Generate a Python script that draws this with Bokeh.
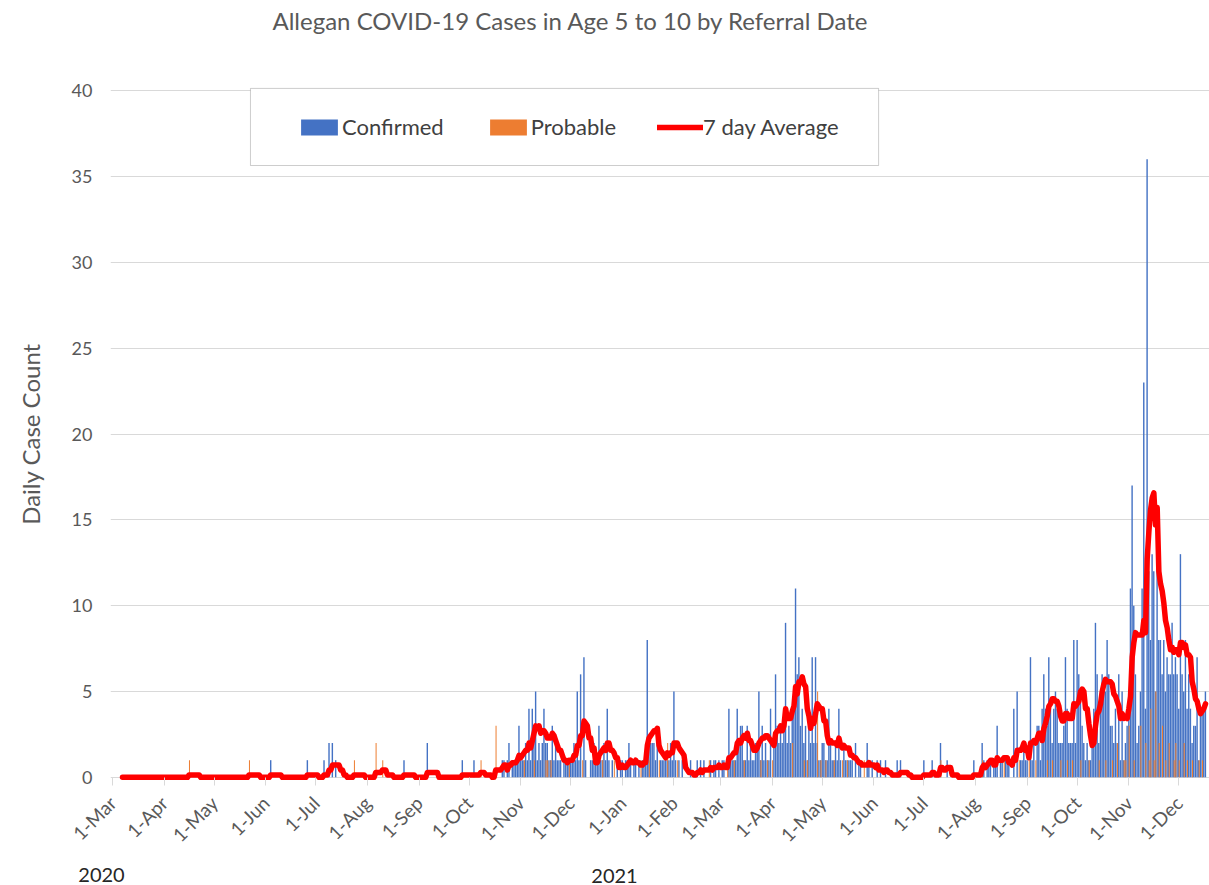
import numpy as np
import pandas as pd
from math import pi
from bokeh.plotting import figure
from bokeh.models import (ColumnDataSource, FixedTicker, SingleIntervalTicker, Legend,
                          LegendItem, Label, BoxAnnotation, Range1d)
from bokeh.transform import dodge
from bokeh.embed import file_html
from bokeh.resources import INLINE

# ---------------- data (daily counts, by referral date) ----------------
start_date = "2020-03-01"

conf_2020_03 = [0,0,0,0,0,0,0,0,0,0, 0,0,0,0,0,0,0,0,0,0, 0,0,0,0,0,0,0,0,0,0, 0]
prob_2020_03 = [0,0,0,0,0,0,0,0,0,0, 0,0,0,0,0,0,0,0,0,0, 0,0,0,0,0,0,0,0,0,0, 0]
conf_2020_04 = [0,0,0,0,0,0,0,0,0,0, 0,0,0,0,0,0,0,0,0,0, 0,0,0,0,0,0,0,0,0,0]
prob_2020_04 = [0,0,0,0,0,0,0,0,0,0, 0,0,0,0,0,1,0,0,0,0, 0,0,0,0,0,0,0,0,0,0]
conf_2020_05 = [0,0,0,0,0,0,0,0,0,0, 0,0,0,0,0,0,0,0,0,0, 0,0,0,0,0,0,0,0,0,0, 0]
prob_2020_05 = [0,0,0,0,0,0,0,0,0,0, 0,0,0,0,0,0,0,0,0,0, 0,1,0,0,0,0,0,0,0,0, 0]
conf_2020_06 = [0,0,0,1,0,0,0,0,0,0, 0,0,0,0,0,0,0,0,0,0, 0,0,0,0,0,1,0,0,0,0]
prob_2020_06 = [0,0,0,0,0,0,0,0,0,0, 0,0,0,0,0,0,0,0,0,0, 0,0,0,0,0,0,0,0,0,0]
conf_2020_07 = [0,0,0,0,0,1,0,0,2,0, 2,0,1,0,0,0,0,0,0,0, 0,0,0,0,0,0,0,0,0,0, 0]
prob_2020_07 = [0,0,0,0,0,0,0,0,0,0, 0,0,0,0,0,0,0,0,0,0, 0,0,0,1,0,0,0,0,0,0, 0]
conf_2020_08 = [0,0,0,0,0,0,0,0,0,0, 0,0,0,0,0,0,0,0,0,0, 0,0,1,0,0,0,0,0,0,0, 0]
prob_2020_08 = [0,0,0,0,0,2,0,0,0,1, 0,0,0,0,0,0,0,0,0,0, 0,0,0,0,0,0,0,0,0,0, 0]
conf_2020_09 = [0,0,0,0,0,2,0,0,0,0, 0,0,0,0,0,0,0,0,0,0, 0,0,0,0,0,0,1,0,0,0]
prob_2020_09 = [0,0,0,0,0,0,0,0,0,0, 0,0,0,0,0,0,0,0,0,0, 0,0,0,0,0,0,0,0,0,0]
conf_2020_10 = [0,0,0,1,0,0,0,0,0,0, 0,0,0,0,0,0,0,0,0,0, 1,1,0,1,2,0,1,1,1,1, 3]
prob_2020_10 = [0,0,0,0,0,0,0,1,0,0, 0,0,0,0,0,0,3,0,0,0, 0,0,0,0,0,0,0,0,0,0, 0]
conf_2020_11 = [1,1,1,2,1,4,1,4,3,5, 1,2,1,2,4,2,2,1,1,3, 1,2,1,1,1,0,1,1,1,1]
prob_2020_11 = [0,0,1,0,0,0,0,0,1,0, 0,0,0,0,0,1,1,0,1,0, 0,0,0,0,0,0,0,0,0,1]
conf_2020_12 = [1,1,2,1,5,1,6,0,7,1, 0,0,1,1,2,1,1,3,1,1, 2,1,4,1,0,1,0,0,1,0, 1]
prob_2020_12 = [0,0,0,0,0,0,0,1,0,0, 0,0,0,0,0,0,0,0,0,1, 0,0,0,0,0,0,1,0,0,0, 0]
conf_2021_01 = [1,0,1,1,2,1,0,1,1,0, 1,0,1,1,1,8,2,2,2,2, 1,2,0,1,1,1,1,1,1,2, 1]
prob_2021_01 = [0,0,0,0,0,0,0,0,0,0, 0,1,0,0,0,0,1,0,0,0, 0,0,1,0,0,0,0,2,0,0, 0]
conf_2021_02 = [5,1,0,1,0,1,0,0,0,0, 1,0,0,0,1,0,1,0,1,0, 0,0,1,0,1,1,0,1]
prob_2021_02 = [0,0,1,0,0,0,0,0,0,0, 0,0,0,0,0,0,0,0,0,0, 0,1,0,0,0,0,0,0]
conf_2021_03 = [0,1,1,0,0,4,1,1,1,1, 4,2,3,3,1,1,3,1,2,1, 1,2,2,5,1,3,1,2,1,1, 4]
prob_2021_03 = [0,0,0,0,1,0,0,0,1,0, 0,0,0,0,1,0,0,0,0,0, 0,0,0,0,1,0,0,0,1,0, 0]
conf_2021_04 = [0,2,6,3,2,3,2,3,9,2, 3,2,4,4,11,6,7,3,4,2, 3,1,3,2,7,2,7,2,1,1]
prob_2021_04 = [1,0,0,0,0,0,0,0,0,0, 0,0,2,0,0,0,0,0,0,1, 0,1,0,0,0,0,0,5,0,1]
conf_2021_05 = [2,2,1,1,4,2,1,1,2,1, 4,1,0,2,1,1,1,1,1,0, 2,0,1,1,0,0,0,2,1,0, 1]
prob_2021_05 = [0,0,1,0,0,0,0,1,0,0, 0,0,1,0,0,1,0,0,0,0, 0,0,0,0,0,1,0,0,0,0, 0]
conf_2021_06 = [0,0,1,0,1,0,0,1,0,0, 0,0,0,0,1,0,1,0,0,0, 0,0,0,0,0,0,0,0,0,0]
prob_2021_06 = [0,0,0,0,0,0,0,0,0,0, 0,0,0,0,0,0,0,0,0,0, 0,0,0,0,0,0,0,0,0,0]
conf_2021_07 = [1,0,0,0,0,1,0,0,0,0, 2,0,0,0,1,0,0,0,0,0, 0,0,0,0,0,0,0,0,0,0, 1]
prob_2021_07 = [0,0,0,0,0,0,0,0,0,0, 1,0,0,0,0,0,0,0,0,0, 0,0,0,0,0,0,0,0,0,0, 0]
conf_2021_08 = [0,0,0,0,2,1,0,1,1,1, 0,1,1,3,0,1,1,0,1,1, 1,0,0,4,0,5,0,1,1,2, 1]
prob_2021_08 = [0,0,0,0,1,0,0,0,0,0, 0,0,0,0,0,0,0,1,0,0, 0,0,0,0,0,0,1,0,0,0, 0]
conf_2021_09 = [1,0,7,1,2,0,3,3,1,4, 6,4,3,7,4,2,4,5,4,2, 2,2,3,7,4,2,2,2,8,2]
prob_2021_09 = [0,1,0,0,0,1,0,0,0,0, 0,0,1,0,0,1,0,0,0,0, 1,0,0,0,1,0,0,1,0,0]
conf_2021_10 = [8,6,5,3,2,1,2,1,1,2, 4,9,6,2,5,6,5,5,8,6, 3,3,2,4,2,6,1,5,1,2, 3]
prob_2021_10 = [0,0,1,0,0,0,0,1,0,0, 0,0,0,1,0,0,0,1,0,0, 0,1,0,0,2,0,0,0,1,1, 0]
conf_2021_11 = [5,11,17,10,6,2,3,5,11,23, 4,36,12,8,13,12,5,13,8,8, 6,8,5,7,6,6,9,6,7,6]
prob_2021_11 = [3,0,0,1,0,0,0,3,0,0, 2,0,1,4,0,1,5,0,2,0, 3,0,1,0,2,0,0,1,2,0]
conf_2021_12 = [4,13,6,5,8,4,6,4,2,3, 3,7,1,4,4,4,5]
prob_2021_12 = [1,0,0,2,0,1,0,0,1,0, 0,0,1,0,1,0,0]

tick_labels = ["1-Mar", "1-Apr", "1-May", "1-Jun", "1-Jul", "1-Aug", "1-Sep", "1-Oct",
               "1-Nov", "1-Dec", "1-Jan", "1-Feb", "1-Mar", "1-Apr", "1-May", "1-Jun",
               "1-Jul", "1-Aug", "1-Sep", "1-Oct", "1-Nov", "1-Dec"]
year_labels = ["2020", "2021"]
series_names = ["Confirmed", "Probable", "7 day Average"]
chart_title = "Allegan COVID-19 Cases in Age 5 to 10 by Referral Date"

conf_months = [conf_2020_03, conf_2020_04, conf_2020_05, conf_2020_06, conf_2020_07,
               conf_2020_08, conf_2020_09, conf_2020_10, conf_2020_11, conf_2020_12,
               conf_2021_01, conf_2021_02, conf_2021_03, conf_2021_04, conf_2021_05,
               conf_2021_06, conf_2021_07, conf_2021_08, conf_2021_09, conf_2021_10,
               conf_2021_11, conf_2021_12]
prob_months = [prob_2020_03, prob_2020_04, prob_2020_05, prob_2020_06, prob_2020_07,
               prob_2020_08, prob_2020_09, prob_2020_10, prob_2020_11, prob_2020_12,
               prob_2021_01, prob_2021_02, prob_2021_03, prob_2021_04, prob_2021_05,
               prob_2021_06, prob_2021_07, prob_2021_08, prob_2021_09, prob_2021_10,
               prob_2021_11, prob_2021_12]

confirmed = [v for m in conf_months for v in m]
probable = [v for m in prob_months for v in m]
n = len(confirmed)
dates = pd.date_range(start_date, periods=n, freq="D")
day = (dates - dates[0]).days.to_numpy()
total = pd.Series(np.array(confirmed) + np.array(probable), dtype=float)
avg7 = total.rolling(7).mean().to_numpy()

src = ColumnDataSource(dict(day=day, conf=confirmed, prob=probable, avg=avg7))

month_starts = pd.date_range(start_date, periods=len(tick_labels), freq="MS")
tick_pos = [int((d - dates[0]).days) for d in month_starts]

# ---------------- styling ----------------
FONT = "Lato"
GREY = "#595959"

p = figure(width=1209, height=885, output_backend="svg", toolbar_location=None,
           x_range=Range1d(-1.2, 658.4), y_range=Range1d(-0.3, 40.3),
           min_border_left=110, min_border_right=0, min_border_top=85,
           min_border_bottom=103)
p.outline_line_color = None
p.xgrid.visible = False
p.ygrid.grid_line_color = "#d9d9d9"
p.ygrid.grid_line_width = 1

p.yaxis.ticker = SingleIntervalTicker(interval=5)
p.yaxis.axis_line_color = None
p.yaxis.major_tick_line_color = None
p.yaxis.minor_tick_line_color = None
p.yaxis.major_label_standoff = 12
p.yaxis.major_label_text_font = FONT
p.yaxis.major_label_text_font_size = "18px"
p.yaxis.major_label_text_color = GREY
p.yaxis.axis_label = "Daily Case Count"
p.yaxis.axis_label_text_font = FONT
p.yaxis.axis_label_text_font_style = "normal"
p.yaxis.axis_label_text_font_size = "24px"
p.yaxis.axis_label_text_color = GREY
p.yaxis.axis_label_standoff = 24

p.xaxis.ticker = FixedTicker(ticks=tick_pos)
p.xaxis.major_label_overrides = {t: lab for t, lab in zip(tick_pos, tick_labels)}
p.xaxis.major_label_orientation = pi / 4
p.xaxis.axis_line_color = None
p.xaxis.major_tick_line_color = "#d9d9d9"
p.xaxis.major_tick_in = 5
p.xaxis.major_tick_out = 3
p.xaxis.minor_tick_line_color = None
p.xaxis.major_label_standoff = 14
p.xaxis.major_label_text_font = FONT
p.xaxis.major_label_text_font_size = "19px"
p.xaxis.major_label_text_color = GREY

r_conf = p.vbar(x=dodge("day", -0.05), top="conf", width=0.85, source=src,
                fill_color="#4472C4", line_color=None)
r_prob = p.vbar(x=dodge("day", 0.2), top="prob", width=0.6, source=src,
                fill_color="#ED7D31", line_color=None)
r_avg = p.line(x="day", y="avg", source=src, line_color="#FF0000", line_width=5.5,
               line_join="round", line_cap="round")

# legend frame
box = BoxAnnotation(left=82.8, right=459.8, bottom=35.64, top=40.13,
                    fill_color="white", fill_alpha=1.0, line_color="#595959",
                    line_width=1)
p.add_layout(box)

legend = Legend(items=[LegendItem(label=series_names[0], renderers=[r_conf]),
                       LegendItem(label=series_names[1], renderers=[r_prob]),
                       LegendItem(label=series_names[2], renderers=[r_avg])],
                orientation="horizontal", location=(176, 632),
                glyph_width=46, glyph_height=20, label_standoff=0, spacing=41,
                padding=10, border_line_alpha=0, background_fill_alpha=0,
                label_text_font=FONT, label_text_font_size="22px",
                label_text_color="#404040")
p.add_layout(legend)

title_lbl = Label(x=162, y=65, x_units="screen", y_units="screen", text=chart_title,
                  text_font=FONT, text_font_size="24px", text_color=GREY,
                  text_align="left", text_baseline="middle")
p.add_layout(title_lbl, "above")

y2020 = Label(x=-9, y=-3, x_units="screen", y_units="screen", text=year_labels[0],
              text_font=FONT, text_font_size="20px", text_color="#262626",
              text_align="center", text_baseline="middle")
y2021 = Label(x=504, y=10, x_units="screen", y_units="screen", text=year_labels[1],
              text_font=FONT, text_font_size="20px", text_color="#262626",
              text_align="center", text_baseline="middle")
p.add_layout(y2020, "below")
p.add_layout(y2021, "below")

open("out.html", "w").write(file_html(p, INLINE))
